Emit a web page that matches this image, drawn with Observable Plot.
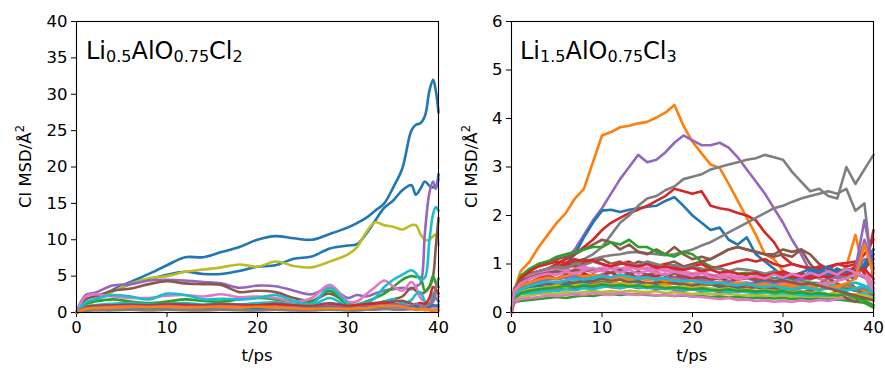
<!DOCTYPE html>
<html><head><meta charset="utf-8">
<script src="https://cdn.jsdelivr.net/npm/d3@7"></script>
<script src="https://cdn.jsdelivr.net/npm/@observablehq/plot@0.6"></script>
<style>
body{margin:0;background:#fff;}
#wrap{position:relative;width:885px;height:372px;font-family:"DejaVu Sans",sans-serif;}
#left,#right{position:absolute;top:0;}
#left{left:0;}
#right{left:442px;}
</style></head><body>
<div id="wrap"><div id="left"></div><div id="right"></div></div>
<script>
// ---------- colours (matplotlib tab10) ----------
const cBlue="#1f77b4", cOrange="#ff7f0e", cGreen="#2ca02c", cRed="#d62728", cPurple="#9467bd",
      cBrown="#8c564b", cPink="#e377c2", cGray="#7f7f7f", cOlive="#bcbd22", cCyan="#17becf";

// ---------- left panel: Li0.5AlO0.75Cl2 ----------
const tL = [0,1,2,4,6,8,10,12,14,16,18,20,22,24,26,28,30,31,32,33,34,35,36,37,37.5,38,38.5,39,39.4,39.7,40];
const lA = [0,0.9,1.7,3.1,4.2,5.3,6.5,7.6,7.6,8.3,9.0,10.0,10.5,10.2,10.0,10.8,11.7,12.3,13.0,14.0,15.0,17.2,19.8,25.0,25.8,26.0,27.0,30.5,32.0,30.5,27.5];
const lB = [0,0.8,1.6,2.9,3.9,4.6,5.2,5.6,5.3,5.3,5.7,6.3,6.5,7.4,7.7,8.8,9.2,9.4,10.8,12.6,14.4,15.4,16.8,17.5,16.2,17.0,18.0,17.4,17.2,17.3,19.0];
const lC = [0,0.8,1.6,2.9,4.0,4.7,5.0,5.6,5.9,6.2,6.6,6.3,7.0,6.4,6.2,7.0,8.0,9.0,11.0,12.4,12.0,11.8,11.4,12.0,12.0,10.8,10.0,10.0,10.5,10.7,9.3];
const lD = [0,2.4,2.7,3.7,3.9,4.4,4.5,4.4,4.2,4.0,3.4,3.7,3.6,3.0,2.5,3.4,2.0,2.4,2.2,2.6,3.0,3.2,3.4,3.2,3.6,4.0,11.0,16.5,18.0,17.0,18.3];
const lE = [0,1.8,2.2,3.0,3.3,3.9,4.3,4.0,3.9,3.8,2.8,3.0,2.8,2.0,1.6,2.6,1.2,1.0,1.0,1.2,1.5,1.8,2.2,3.4,3.0,2.6,2.8,3.5,5.0,9.0,13.0];
const lF = [0,2.2,2.5,2.2,2.0,2.0,2.3,2.4,2.2,2.5,2.1,2.2,2.0,1.5,2.0,3.8,1.5,1.5,2.5,3.5,4.4,3.6,3.0,4.2,3.5,2.0,1.5,1.3,1.8,2.6,2.2];
const lG = [0,1.4,1.8,2.4,2.2,1.8,2.6,2.4,1.8,1.9,1.8,2.0,2.4,1.6,1.2,3.4,1.2,1.0,1.3,2.0,3.5,4.5,5.2,5.8,5.4,4.5,4.8,10.0,13.5,14.5,14.0];
const lH = [0,1.2,1.5,1.8,1.5,1.3,1.5,1.8,1.6,1.5,1.8,2.0,1.8,1.4,1.5,3.0,1.0,1.1,1.5,2.0,2.6,3.5,4.5,5.0,4.9,4.8,3.0,3.6,5.0,4.0,3.5];
const lI = [0,0.8,1.0,1.2,1.3,1.1,1.2,1.3,1.1,1.2,1.1,1.3,1.4,1.1,1.0,2.0,0.8,1.0,1.4,1.2,1.5,1.8,1.3,1.7,2.5,2.8,1.5,1.0,2.6,2.0,1.5];
const lJ = [0,0.5,0.6,0.7,0.8,0.7,0.8,0.7,0.7,0.8,0.7,0.8,0.7,0.6,0.5,0.6,0.5,0.6,0.6,0.8,0.9,0.9,0.8,0.6,0.5,0.4,0.5,0.3,0.2,0.3,0.2];
const lK = [0,0.6,0.8,0.9,1.0,0.9,1.0,1.0,0.9,1.0,0.9,1.0,1.1,0.9,0.8,1.0,0.9,1.0,1.1,1.2,1.3,1.2,1.0,0.9,1.1,1.3,1.2,2.0,3.5,3.2,2.6];
const lL = [0,0.2,0.3,0.3,0.4,0.3,0.4,0.3,0.3,0.4,0.3,0.3,0.4,0.3,0.3,0.4,0.3,0.3,0.4,0.4,0.5,0.4,0.4,0.5,0.4,0.6,0.8,1.2,2.0,3.5,4.7];
const lM = [0,0.7,0.9,1.0,1.1,1.0,1.2,1.1,1.0,1.2,1.1,1.0,1.2,1.0,0.9,1.3,0.9,1.0,1.2,1.3,1.4,1.5,1.6,1.2,1.0,0.8,1.0,1.2,1.0,0.9,1.1];
const lN = [0,0.3,0.4,0.5,0.5,0.6,0.5,0.5,0.6,0.5,0.5,0.6,0.5,0.4,0.5,0.6,0.4,0.5,0.5,0.6,0.6,0.7,0.6,0.5,0.6,0.7,0.6,0.5,0.6,0.5,0.4];
const lO = [0,0.4,0.5,0.6,0.6,0.5,0.6,0.6,0.5,0.6,0.6,0.5,0.6,0.5,0.5,0.7,0.5,0.6,0.6,0.7,0.8,0.7,0.6,0.7,0.8,0.6,0.5,0.7,1.0,0.9,0.8];
const lP = [0,0.5,0.7,0.8,0.9,0.8,0.9,0.8,0.8,0.9,0.8,0.7,0.8,0.7,0.6,0.9,0.6,0.7,0.8,0.9,1.0,1.1,1.0,0.9,1.2,1.0,0.8,0.9,1.5,2.0,1.6];
const lQ = [0,0.3,0.3,0.4,0.4,0.3,0.4,0.4,0.3,0.4,0.4,0.3,0.4,0.3,0.3,0.5,0.3,0.3,0.4,0.4,0.5,0.5,0.4,0.5,0.4,0.5,0.3,0.4,0.6,0.5,0.4];

const leftSeries = [
  ["A",cBlue,lA],["B",cBlue,lB],["C",cOlive,lC],["D",cPurple,lD],["E",cBrown,lE],["H",cGreen,lH],
  ["F",cPink,lF],["G",cCyan,lG],["I",cCyan,lI],["M",cBrown,lM],["K",cRed,lK],["P",cPurple,lP],
  ["N",cOlive,lN],["O",cBlue,lO],["Q",cPink,lQ],["L",cGray,lL],["J",cOrange,lJ]
];

// ---------- right panel: Li1.5AlO0.75Cl3 ----------
const tR = [0,0.3,1,2,3,4,5,6,7,8,9,10,11,12,13,14,15,16,17,18,19,20,21,22,23,24,25,26,27,28,29,30,31,32,33,34,35,36,37,38,39,40];
const rOrange = [0,0.45,0.85,1.05,1.35,1.6,1.85,2.05,2.35,2.55,3.1,3.65,3.72,3.82,3.85,3.9,3.93,4.02,4.12,4.28,3.85,3.52,3.28,3.05,2.98,2.65,2.3,1.95,1.6,1.2,1.1,0.85,0.72,0.68,0.8,0.7,0.62,0.78,0.95,1.6,0.82,0.3];
const rPurple = [0,0.4,0.55,0.7,0.8,0.9,1.0,1.1,1.3,1.6,1.9,2.15,2.45,2.75,3.0,3.25,3.1,3.15,3.3,3.5,3.65,3.55,3.45,3.45,3.5,3.4,3.2,2.95,2.7,2.45,2.15,1.85,1.5,1.2,0.85,0.8,0.85,0.75,0.85,0.9,1.1,1.0];
const rBlue = [0,0.4,0.5,0.6,0.7,0.8,0.9,1.0,1.2,1.55,1.85,2.1,2.12,2.07,2.12,2.15,2.18,2.2,2.3,2.38,2.2,2.0,1.85,1.7,1.75,1.5,1.4,1.55,1.2,1.05,0.9,0.75,0.72,0.7,0.85,0.9,0.82,0.9,0.75,0.7,1.0,1.3];
const rRed = [0,0.4,0.55,0.7,0.8,0.9,1.0,1.1,1.2,1.35,1.5,1.7,1.85,1.95,2.05,2.12,2.2,2.3,2.4,2.55,2.5,2.45,2.5,2.2,2.15,2.12,2.05,2.0,1.9,1.65,1.45,1.15,1.0,0.95,0.92,0.88,0.95,1.0,1.02,1.05,0.8,1.7];
const rGrayHi = [0,0.4,0.5,0.6,0.7,0.8,0.88,0.95,1.02,1.1,1.2,1.35,1.6,1.85,2.0,2.2,2.35,2.4,2.52,2.6,2.75,2.8,2.85,2.95,3.0,3.05,3.1,3.15,3.18,3.25,3.2,3.15,2.9,2.7,2.5,2.55,2.4,2.35,3.0,2.65,2.95,3.25];
const rGrayLo = [0,0.4,0.5,0.6,0.68,0.75,0.82,0.9,0.98,1.05,1.1,1.15,1.18,1.2,1.24,1.25,1.22,1.2,1.18,1.2,1.25,1.3,1.38,1.45,1.55,1.65,1.75,1.85,1.95,2.05,2.15,2.2,2.28,2.35,2.4,2.45,2.5,2.45,2.55,2.1,2.25,0.6];
const rBrown = [0,0.4,0.7,0.85,1.0,1.05,1.1,1.15,1.2,1.3,1.4,1.5,1.45,1.3,1.4,1.25,1.2,1.3,1.2,1.35,1.2,1.1,1.15,1.1,1.2,1.3,1.35,1.3,1.25,1.2,1.15,1.2,1.15,1.3,1.0,0.8,0.7,0.6,0.5,0.45,0.4,0.3];
const rGreen = [0,0.4,0.75,0.9,1.0,1.05,1.15,1.2,1.25,1.3,1.35,1.35,1.45,1.4,1.5,1.35,1.35,1.25,1.2,1.15,1.25,1.2,1.05,0.95,0.9,0.85,0.8,0.82,0.78,0.75,0.7,0.72,0.68,0.65,0.62,0.6,0.58,0.55,0.5,0.45,0.5,0.4];
const rBrown2 = [0,0.4,0.65,0.8,0.85,0.9,0.95,1.0,1.05,1.1,1.05,1.1,1.0,1.05,0.95,1.05,1.0,0.95,1.0,1.05,0.95,1.0,1.05,1.1,1.2,1.3,1.35,1.3,1.25,1.2,1.2,1.3,1.25,1.3,1.2,1.0,0.9,0.85,0.7,0.5,0.4,0.35];
const rRed2 = [0,0.4,0.65,0.8,0.85,0.9,0.95,1.0,0.95,1.0,1.05,1.0,0.95,1.0,1.05,0.95,0.9,0.95,1.0,0.95,0.9,0.95,1.0,0.9,0.95,1.0,1.05,1.1,1.05,1.1,1.0,0.95,1.0,0.95,0.9,0.95,0.9,1.0,0.95,1.0,1.2,1.5];
const b1 = [0,0.4,0.6,0.7,0.78,0.82,0.8,0.88,0.85,0.9,0.82,0.88,0.92,0.85,0.9,0.95,0.88,0.85,0.9,0.82,0.86,0.8,0.85,0.78,0.75,0.82,0.7,0.75,0.68,0.72,0.65,0.7,0.62,0.68,0.75,0.7,0.78,0.72,0.85,0.75,0.95,0.5];
const b2 = [0,0.4,0.65,0.78,0.85,0.9,0.95,0.92,1.0,0.98,1.05,1.0,0.95,1.02,1.0,0.98,1.05,1.0,0.95,0.98,0.92,0.95,0.9,0.88,0.92,0.85,0.9,0.88,0.85,0.8,0.85,0.82,0.78,0.8,0.75,0.72,0.78,0.7,0.75,0.8,0.72,0.6];
const b3 = [0,0.35,0.5,0.55,0.58,0.6,0.62,0.6,0.65,0.62,0.68,0.7,0.66,0.72,0.68,0.7,0.75,0.72,0.7,0.68,0.72,0.65,0.68,0.62,0.6,0.62,0.58,0.6,0.55,0.58,0.52,0.55,0.5,0.52,0.48,0.55,0.6,0.52,0.58,0.62,0.55,0.5];
const b4 = [0,0.3,0.45,0.5,0.55,0.52,0.58,0.6,0.56,0.62,0.6,0.65,0.62,0.6,0.64,0.62,0.6,0.58,0.62,0.6,0.56,0.58,0.55,0.58,0.52,0.55,0.5,0.52,0.55,0.6,0.62,0.7,0.75,0.82,0.9,0.85,0.95,0.8,0.9,0.85,1.0,1.3];
const b5 = [0,0.35,0.5,0.55,0.6,0.62,0.58,0.65,0.6,0.7,0.62,0.68,0.65,0.6,0.62,0.65,0.6,0.62,0.58,0.6,0.62,0.58,0.55,0.6,0.58,0.55,0.6,0.55,0.58,0.52,0.55,0.5,0.52,0.55,0.5,0.48,0.52,0.5,0.55,0.5,0.45,0.4];
const b6 = [0,0.25,0.32,0.35,0.38,0.4,0.38,0.42,0.4,0.42,0.45,0.42,0.44,0.42,0.45,0.43,0.42,0.44,0.4,0.42,0.4,0.38,0.4,0.38,0.37,0.38,0.36,0.35,0.37,0.35,0.34,0.35,0.33,0.34,0.32,0.33,0.3,0.32,0.3,0.28,0.3,0.25];
const b7 = [0,0.2,0.24,0.26,0.28,0.3,0.32,0.3,0.33,0.35,0.34,0.37,0.38,0.36,0.38,0.37,0.36,0.35,0.36,0.34,0.35,0.33,0.34,0.32,0.33,0.31,0.32,0.3,0.31,0.3,0.29,0.3,0.28,0.29,0.27,0.28,0.26,0.27,0.25,0.22,0.2,0.1];
const b8 = [0,0.3,0.38,0.42,0.45,0.48,0.46,0.5,0.48,0.52,0.5,0.55,0.52,0.5,0.54,0.5,0.52,0.48,0.5,0.47,0.45,0.48,0.44,0.46,0.42,0.45,0.42,0.44,0.4,0.42,0.4,0.43,0.45,0.5,0.55,0.6,0.7,0.75,0.8,0.9,1.9,0.9];
const b9 = [0,0.2,0.28,0.3,0.32,0.35,0.34,0.36,0.38,0.36,0.4,0.38,0.37,0.4,0.38,0.36,0.38,0.35,0.37,0.34,0.36,0.33,0.32,0.3,0.28,0.3,0.26,0.27,0.24,0.25,0.22,0.24,0.22,0.25,0.23,0.26,0.24,0.28,0.3,0.35,0.4,0.3];
const b10 = [0,0.35,0.5,0.55,0.6,0.58,0.62,0.65,0.6,0.68,0.64,0.7,0.66,0.68,0.62,0.65,0.6,0.62,0.64,0.6,0.58,0.55,0.6,0.58,0.55,0.52,0.55,0.5,0.52,0.48,0.5,0.45,0.48,0.42,0.45,0.4,0.35,0.45,0.3,0.22,0.35,0.3];
const b11 = [0,0.4,0.55,0.62,0.7,0.75,0.7,0.78,0.72,0.8,0.75,0.78,0.82,0.75,0.8,0.72,0.78,0.75,0.8,0.72,0.75,0.7,0.72,0.68,0.7,0.65,0.68,0.7,0.72,0.75,0.8,0.85,0.78,0.8,0.75,0.85,0.78,0.9,0.82,0.95,0.9,1.1];
const b12 = [0,0.3,0.42,0.45,0.48,0.5,0.52,0.5,0.55,0.52,0.56,0.55,0.58,0.54,0.56,0.52,0.55,0.5,0.52,0.5,0.48,0.5,0.46,0.48,0.45,0.46,0.44,0.45,0.42,0.44,0.4,0.42,0.38,0.4,0.36,0.38,0.35,0.4,0.6,0.45,0.5,0.4];
const b13 = [0,0.3,0.38,0.4,0.42,0.45,0.44,0.48,0.46,0.5,0.48,0.52,0.55,0.5,0.54,0.52,0.5,0.52,0.48,0.5,0.46,0.48,0.45,0.44,0.46,0.42,0.44,0.42,0.4,0.42,0.38,0.4,0.38,0.36,0.35,0.36,0.34,0.36,0.38,0.35,0.4,0.3];
const b14 = [0,0.45,0.65,0.75,0.8,0.85,0.88,0.82,0.9,0.95,0.88,0.92,0.98,0.9,0.95,0.88,0.92,0.9,0.85,0.88,0.82,0.78,0.82,0.75,0.78,0.72,0.75,0.7,0.65,0.7,0.62,0.6,0.58,0.62,0.55,0.6,0.58,0.65,0.7,0.8,0.75,0.6];
const b15 = [0,0.35,0.55,0.6,0.65,0.68,0.7,0.72,0.75,0.7,0.78,0.75,0.72,0.78,0.74,0.7,0.72,0.68,0.7,0.66,0.68,0.65,0.62,0.65,0.6,0.62,0.6,0.58,0.62,0.65,0.6,0.7,0.75,0.68,0.8,0.85,0.78,0.9,0.82,0.88,0.95,1.2];
const b16 = [0,0.3,0.42,0.48,0.5,0.52,0.55,0.52,0.56,0.58,0.55,0.6,0.57,0.6,0.58,0.55,0.57,0.54,0.55,0.52,0.54,0.5,0.52,0.5,0.48,0.5,0.46,0.48,0.45,0.47,0.44,0.45,0.42,0.44,0.4,0.42,0.38,0.4,0.36,0.38,0.35,0.3];
const b17 = [0,0.3,0.4,0.45,0.48,0.5,0.52,0.55,0.52,0.56,0.54,0.58,0.55,0.57,0.54,0.56,0.52,0.54,0.5,0.52,0.5,0.48,0.5,0.47,0.46,0.48,0.45,0.46,0.43,0.45,0.42,0.44,0.4,0.42,0.38,0.4,0.37,0.35,0.38,0.3,0.25,0.15];
const b18 = [0,0.4,0.55,0.6,0.65,0.7,0.68,0.72,0.75,0.7,0.74,0.78,0.72,0.76,0.7,0.74,0.72,0.68,0.7,0.72,0.68,0.65,0.68,0.64,0.62,0.65,0.6,0.62,0.58,0.62,0.6,0.65,0.62,0.7,0.68,0.75,0.72,0.8,0.78,0.85,1.5,0.9];
const b19 = [0,0.45,0.7,0.85,0.95,1.0,1.05,1.02,1.1,1.05,1.08,1.0,0.95,1.02,0.98,0.95,1.0,0.92,0.95,0.9,0.88,0.92,0.85,0.88,0.82,0.85,0.8,0.78,0.82,0.75,0.8,0.78,0.72,0.75,0.7,0.75,0.72,0.8,0.78,0.85,0.9,0.7];
const b20 = [0,0.4,0.55,0.62,0.68,0.72,0.7,0.76,0.8,0.74,0.78,0.75,0.7,0.74,0.68,0.72,0.66,0.7,0.65,0.68,0.64,0.66,0.62,0.6,0.64,0.58,0.62,0.6,0.56,0.6,0.55,0.58,0.55,0.6,0.52,0.56,0.5,0.55,0.6,0.7,1.4,0.8];
const b21 = [0,0.35,0.48,0.55,0.6,0.64,0.62,0.66,0.7,0.68,0.72,0.75,0.72,0.78,0.74,0.7,0.72,0.68,0.7,0.66,0.64,0.66,0.62,0.6,0.62,0.58,0.56,0.6,0.54,0.52,0.55,0.5,0.48,0.52,0.5,0.46,0.5,0.48,0.45,0.5,0.55,0.4];
const b22 = [0,0.5,0.65,0.72,0.78,0.82,0.85,0.8,0.88,0.84,0.9,0.86,0.82,0.88,0.8,0.84,0.78,0.82,0.76,0.8,0.75,0.78,0.72,0.76,0.7,0.74,0.68,0.72,0.66,0.7,0.64,0.66,0.62,0.58,0.6,0.55,0.5,0.45,0.4,0.35,0.3,0.25];
const b23 = [0,0.45,0.6,0.7,0.76,0.8,0.78,0.84,0.8,0.86,0.92,0.85,0.9,0.82,0.88,0.8,0.86,0.82,0.78,0.84,0.8,0.76,0.8,0.74,0.7,0.76,0.68,0.72,0.75,0.7,0.78,0.72,0.8,0.74,0.82,0.76,0.85,0.78,0.9,0.82,0.75,0.45];

const rightSeries = [
  ["o",cOrange,rOrange],["p",cPurple,rPurple],["b",cBlue,rBlue],["r",cRed,rRed],
  ["g1",cGray,rGrayHi],["g2",cGray,rGrayLo],["br",cBrown,rBrown],["gr",cGreen,rGreen],
  ["br2",cBrown,rBrown2],["r2",cRed,rRed2],
  ["b1",cPink,b1],["b2",cGray,b2],["b3",cCyan,b3],["b4",cBlue,b4],["b5",cOrange,b5],["b6",cOlive,b6],
  ["b7",cGreen,b7],["b8",cPurple,b8],["b9",cPink,b9],["b10",cBrown,b10],["b11",cRed,b11],["b12",cGray,b12],
  ["b13",cCyan,b13],["b14",cPink,b14],["b15",cBlue,b15],["b16",cOlive,b16],["b17",cGreen,b17],["b18",cPurple,b18],
  ["b19",cRed,b19],["b20",cOrange,b20],["b21",cCyan,b21],["b22",cBrown,b22],["b23",cPink,b23]
];

const leftTicksY = [0,5,10,15,20,25,30,35,40];
const rightTicksY = [0,1,2,3,4,5,6];
const ticksX = [0,10,20,30,40];

function toRows(series, grid){
  return series.flatMap(([id,c,vals]) => vals.map((v,i)=>({id, c, t:grid[i], v})));
}

const FS = "16.5px";
const FF = "DejaVu Sans, sans-serif";
function panel(rows, yMax, yTicks, w, ml, mr, curve){
  return Plot.plot({
    width:w, height:372, marginLeft:ml, marginRight:mr, marginTop:21, marginBottom:60,
    style:{fontFamily:FF, fontSize:FS, color:"#000", background:"none", overflow:"visible"},
    x:{domain:[0,40], ticks:ticksX, tickSize:5, tickPadding:4, tickFormat:d3.format("d"), label:null},
    y:{domain:[0,yMax], ticks:yTicks, tickSize:5, tickPadding:4, tickFormat:d3.format("d"), label:null},
    color:{type:"identity"},
    marks:[
      Plot.line(rows,{x:"t", y:"v", z:"id", stroke:"c", strokeWidth:2.6, curve, strokeLinejoin:"round", strokeLinecap:"round"}),
      Plot.frame({stroke:"#000", strokeWidth:1.1})
    ]
  });
}

function decorate(svg, xLabelX, yLabelX, titleX, parts){
  const s = d3.select(svg);
  s.append("text").attr("x", xLabelX).attr("y", 361).attr("text-anchor","middle")
    .style("font-size",FS).style("font-family",FF).text("t/ps");
  const yl = s.append("text").attr("transform",`translate(${yLabelX},166.5) rotate(-90)`)
    .attr("text-anchor","middle").style("font-size",FS).style("font-family",FF);
  yl.append("tspan").text("Cl MSD/Å");
  yl.append("tspan").attr("dy",-7).style("font-size","11.5px").text("2");
  const tt = s.append("text").attr("x", titleX).attr("y", 59).attr("text-anchor","start")
    .style("text-anchor","start").style("font-family",FF).style("font-size","24px");
  let sub = false;
  parts.forEach(([txt,isSub]) => {
    const sp = tt.append("tspan").text(txt);
    if (isSub) sp.style("font-size","16px");
    if (isSub && !sub) sp.attr("dy",3);
    else if (!isSub && sub) sp.attr("dy",-3);
    sub = isSub;
  });
}

const leftSvg = panel(toRows(leftSeries,tL), 40, leftTicksY, 442, 76, 4, "catmull-rom");
decorate(leftSvg, 257, 31, 86, [["Li",false],["0.5",true],["AlO",false],["0.75",true],["Cl",false],["2",true]]);
document.getElementById("left").appendChild(leftSvg);

const rightSvg = panel(toRows(rightSeries,tR), 6, rightTicksY, 443, 69, 12, "linear");
decorate(rightSvg, 249.7, 34.5, 78, [["Li",false],["1.5",true],["AlO",false],["0.75",true],["Cl",false],["3",true]]);
document.getElementById("right").appendChild(rightSvg);
</script>
</body></html>
